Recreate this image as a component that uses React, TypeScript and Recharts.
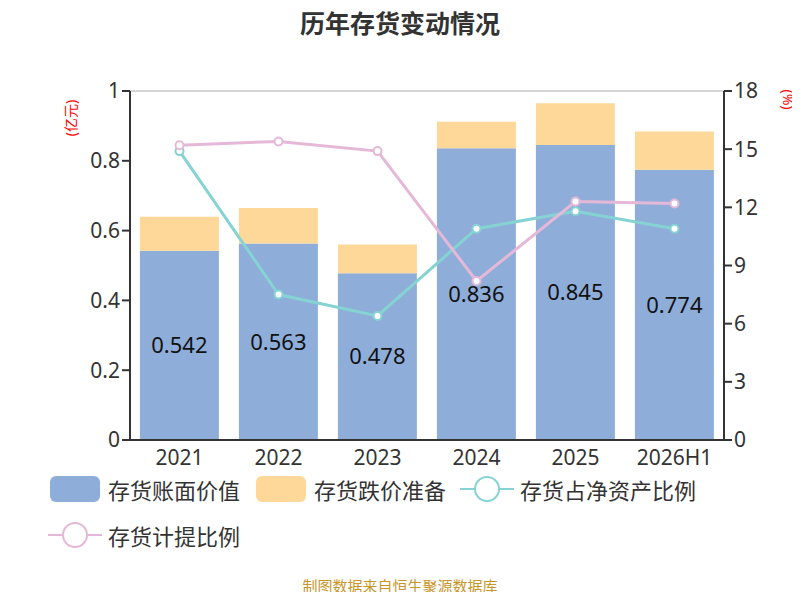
import React from 'react';
import { ComposedChart, Bar, Line, XAxis, YAxis, CartesianGrid, LabelList } from 'recharts';

const years = ['2021', '2022', '2023', '2024', '2025', '2026H1'];
const bookValue = [0.542, 0.563, 0.478, 0.836, 0.845, 0.774];
const reserve = [0.098, 0.102, 0.082, 0.076, 0.12, 0.11];
const netAssetRatio = [14.9, 7.5, 6.4, 10.9, 11.8, 10.9];
const provisionRatio = [15.2, 15.4, 14.9, 8.2, 12.3, 12.2];
const leftTicks = [0, 0.2, 0.4, 0.6, 0.8, 1];
const rightTicks = [0, 3, 6, 9, 12, 15, 18];

const data = years.map((y, i) => ({
  year: y,
  book: bookValue[i],
  reserve: reserve[i],
  net: netAssetRatio[i],
  prov: provisionRatio[i],
}));

const font = '"Noto Sans", "Noto Sans CJK SC", sans-serif';
const tick = { fill: '#333', fontSize: 21, fontFamily: font };

const legendItems = [
  { name: '存货账面价值', color: '#8eaed9', type: 'bar' },
  { name: '存货跌价准备', color: '#fdd899', type: 'bar' },
  { name: '存货占净资产比例', color: '#85d3d3', type: 'line' },
  { name: '存货计提比例', color: '#e5b8d8', type: 'line' },
];

function LegendBlock() {
  return (
    <div style={{ position: 'absolute', left: 48, top: 470, display: 'flex', flexWrap: 'wrap', width: 740, fontFamily: font, fontSize: 22, color: '#333', rowGap: 8 }}>
      {legendItems.map((it) => (
        <div key={it.name} style={{ display: 'flex', alignItems: 'center', marginRight: 14, height: 38 }}>
          <svg width={54} height={30} style={{ marginRight: 6 }}>
            {it.type === 'bar' ? (
              <rect x={2} y={2} width={50} height={26} rx={6} fill={it.color} />
            ) : (
              <g>
                <line x1={0} y1={15} x2={54} y2={15} stroke={it.color} strokeWidth={2} />
                <circle cx={27} cy={15} r={12} fill="#fff" stroke={it.color} strokeWidth={2} />
              </g>
            )}
          </svg>
          <span>{it.name}</span>
        </div>
      ))}
    </div>
  );
}

export default function App() {
  return (
    <div style={{ margin: -8, width: 800, height: 600, position: 'relative', background: '#fff', fontFamily: font, overflow: 'hidden' }}>
      <div style={{ position: 'absolute', top: 4, width: 800, textAlign: 'center', fontSize: 25, fontWeight: 'bold', color: '#333' }}>
        历年存货变动情况
      </div>
      <div style={{ position: 'absolute', left: 40, top: 108, width: 60, textAlign: 'center', fontSize: 14, color: 'red', transform: 'rotate(-90deg)' }}>
        (亿元)
      </div>
      <div style={{ position: 'absolute', left: 768, top: 90, width: 40, textAlign: 'center', fontSize: 14, color: 'red', transform: 'rotate(90deg)' }}>
        (%)
      </div>
      <ComposedChart width={800} height={600} data={data} margin={{ top: 91, right: 0, bottom: 0, left: 0 }} barCategoryGap="10%">
        <CartesianGrid vertical={false} stroke="#c8c8c8" strokeWidth={1.5} />
        <XAxis dataKey="year" height={160} tick={tick} tickLine={false} axisLine={{ stroke: '#333', strokeWidth: 2 }} interval={0} tickMargin={4} />
        <YAxis yAxisId="l" domain={[0, 1]} ticks={leftTicks} width={130} tick={tick} axisLine={{ stroke: '#333', strokeWidth: 2 }} tickLine={{ stroke: '#333', strokeWidth: 2 }} tickSize={8} />
        <YAxis yAxisId="r" orientation="right" domain={[0, 18]} ticks={rightTicks} width={76} tick={tick} axisLine={{ stroke: '#333', strokeWidth: 2 }} tickLine={{ stroke: '#333', strokeWidth: 2 }} tickSize={8} />
        <Bar yAxisId="l" dataKey="book" stackId="a" fill="#8eaed9" isAnimationActive={false}>
          <LabelList dataKey="book" position="center" fill="#111" fontSize={22} fontFamily={font} />
        </Bar>
        <Bar yAxisId="l" dataKey="reserve" stackId="a" fill="#fdd899" isAnimationActive={false} />
        <Line yAxisId="r" dataKey="net" stroke="#85d3d3" strokeWidth={3} dot={{ r: 4, fill: '#fff', stroke: '#85d3d3', strokeWidth: 2 }} isAnimationActive={false} />
        <Line yAxisId="r" dataKey="prov" stroke="#e5b8d8" strokeWidth={3} dot={{ r: 4, fill: '#fff', stroke: '#e5b8d8', strokeWidth: 2 }} isAnimationActive={false} />
      </ComposedChart>
      <LegendBlock />
      <div style={{ position: 'absolute', top: 576, width: 800, textAlign: 'center', fontSize: 15, lineHeight: '20px', color: '#c8962a' }}>
        制图数据来自恒生聚源数据库
      </div>
    </div>
  );
}
